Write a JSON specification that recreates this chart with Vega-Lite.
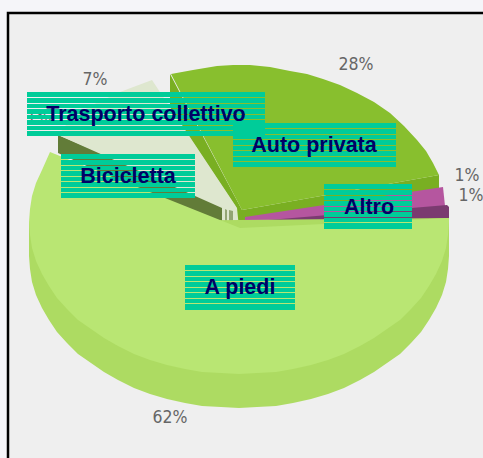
{
"$schema":"https://vega.github.io/schema/vega-lite/v6.json",
"width":483,"height":458,"padding":0,"autosize":{"type":"none"},
"background":"#F5F5F9",
"config":{"view":{"stroke":null}},
"datasets":{
"poly":[
{"part":"panel","i":0,"x":8,"y":13},{"part":"panel","i":1,"x":483,"y":13},{"part":"panel","i":2,"x":483,"y":458},{"part":"panel","i":3,"x":8,"y":458},
{"part":"trasportoWall","i":0,"x":58,"y":135},{"part":"trasportoWall","i":1,"x":58,"y":153},{"part":"trasportoWall","i":2,"x":224,"y":228},{"part":"trasportoWall","i":3,"x":224,"y":205},
{"part":"trasporto","i":0,"x":152,"y":80},{"part":"trasporto","i":1,"x":120,"y":92},{"part":"trasporto","i":2,"x":90,"y":106},{"part":"trasporto","i":3,"x":70,"y":120},{"part":"trasporto","i":4,"x":58,"y":135},{"part":"trasporto","i":5,"x":222,"y":208},{"part":"trasporto","i":6,"x":222,"y":228},{"part":"trasporto","i":7,"x":238,"y":228},{"part":"trasporto","i":8,"x":238,"y":210},
{"part":"bar1","i":0,"x":225,"y":209},{"part":"bar1","i":1,"x":227,"y":210},{"part":"bar1","i":2,"x":227,"y":228},{"part":"bar1","i":3,"x":225,"y":228},
{"part":"bar2","i":0,"x":229,"y":210},{"part":"bar2","i":1,"x":233,"y":211},{"part":"bar2","i":2,"x":233,"y":228},{"part":"bar2","i":3,"x":229,"y":228},
{"part":"autoWall","i":0,"x":170,"y":74},{"part":"autoWall","i":1,"x":170,"y":107},{"part":"autoWall","i":2,"x":237,"y":208},{"part":"autoWall","i":3,"x":239,"y":228},{"part":"autoWall","i":4,"x":246,"y":228},{"part":"autoWall","i":5,"x":439,"y":190},{"part":"autoWall","i":6,"x":439,"y":175},{"part":"autoWall","i":7,"x":242,"y":210},
{"part":"auto","i":0,"x":171,"y":74},{"part":"auto","i":1,"x":193,"y":70},{"part":"auto","i":2,"x":217,"y":66},{"part":"auto","i":3,"x":233,"y":65},{"part":"auto","i":4,"x":250,"y":65},{"part":"auto","i":5,"x":270,"y":67},{"part":"auto","i":6,"x":290,"y":71},{"part":"auto","i":7,"x":307,"y":74},{"part":"auto","i":8,"x":323,"y":79},{"part":"auto","i":9,"x":340,"y":85},{"part":"auto","i":10,"x":357,"y":93},{"part":"auto","i":11,"x":374,"y":102},{"part":"auto","i":12,"x":390,"y":113},{"part":"auto","i":13,"x":404,"y":126},{"part":"auto","i":14,"x":417,"y":140},{"part":"auto","i":15,"x":426,"y":151},{"part":"auto","i":16,"x":433,"y":163},{"part":"auto","i":17,"x":439,"y":175},{"part":"auto","i":18,"x":242,"y":210},
{"part":"altro1","i":0,"x":245,"y":217},{"part":"altro1","i":1,"x":443,"y":187},{"part":"altro1","i":2,"x":445,"y":206},{"part":"altro1","i":3,"x":245,"y":223},
{"part":"altro2","i":0,"x":245,"y":222},{"part":"altro2","i":1,"x":447,"y":205},{"part":"altro2","i":2,"x":449,"y":207},{"part":"altro2","i":3,"x":449,"y":219},{"part":"altro2","i":4,"x":245,"y":228},
{"part":"piediSide","i":-1,"x":449,"y":218},{"part":"piediSide","i":0,"x":449,"y":256},{"part":"piediSide","i":5,"x":448,"y":269},{"part":"piediSide","i":10,"x":446,"y":282},{"part":"piediSide","i":15,"x":442,"y":295},{"part":"piediSide","i":20,"x":436,"y":308},{"part":"piediSide","i":25,"x":429,"y":320},{"part":"piediSide","i":30,"x":421,"y":332},{"part":"piediSide","i":35,"x":411,"y":343},{"part":"piediSide","i":40,"x":400,"y":354},{"part":"piediSide","i":45,"x":387,"y":363},{"part":"piediSide","i":50,"x":374,"y":372},{"part":"piediSide","i":55,"x":360,"y":380},{"part":"piediSide","i":60,"x":344,"y":388},{"part":"piediSide","i":65,"x":328,"y":394},{"part":"piediSide","i":70,"x":311,"y":399},{"part":"piediSide","i":75,"x":293,"y":403},{"part":"piediSide","i":80,"x":276,"y":406},{"part":"piediSide","i":85,"x":257,"y":407},{"part":"piediSide","i":90,"x":239,"y":408},{"part":"piediSide","i":95,"x":221,"y":407},{"part":"piediSide","i":100,"x":202,"y":406},{"part":"piediSide","i":105,"x":185,"y":403},{"part":"piediSide","i":110,"x":167,"y":399},{"part":"piediSide","i":115,"x":150,"y":394},{"part":"piediSide","i":120,"x":134,"y":388},{"part":"piediSide","i":125,"x":118,"y":380},{"part":"piediSide","i":130,"x":104,"y":372},{"part":"piediSide","i":135,"x":91,"y":363},{"part":"piediSide","i":140,"x":78,"y":354},{"part":"piediSide","i":145,"x":67,"y":343},{"part":"piediSide","i":150,"x":57,"y":332},{"part":"piediSide","i":155,"x":49,"y":320},{"part":"piediSide","i":160,"x":42,"y":308},{"part":"piediSide","i":165,"x":36,"y":295},{"part":"piediSide","i":170,"x":32,"y":282},{"part":"piediSide","i":175,"x":30,"y":269},{"part":"piediSide","i":180,"x":29,"y":256},{"part":"piediSide","i":181,"x":29,"y":222},
{"part":"piedi","i":-2,"x":240,"y":228},{"part":"piedi","i":-1,"x":449,"y":218},{"part":"piedi","i":0,"x":449,"y":222},{"part":"piedi","i":5,"x":448,"y":235},{"part":"piedi","i":10,"x":446,"y":248},{"part":"piedi","i":15,"x":442,"y":261},{"part":"piedi","i":20,"x":436,"y":274},{"part":"piedi","i":25,"x":429,"y":286},{"part":"piedi","i":30,"x":421,"y":298},{"part":"piedi","i":35,"x":411,"y":309},{"part":"piedi","i":40,"x":400,"y":320},{"part":"piedi","i":45,"x":387,"y":329},{"part":"piedi","i":50,"x":374,"y":338},{"part":"piedi","i":55,"x":360,"y":346},{"part":"piedi","i":60,"x":344,"y":354},{"part":"piedi","i":65,"x":328,"y":360},{"part":"piedi","i":70,"x":311,"y":365},{"part":"piedi","i":75,"x":293,"y":369},{"part":"piedi","i":80,"x":276,"y":372},{"part":"piedi","i":85,"x":257,"y":373},{"part":"piedi","i":90,"x":239,"y":374},{"part":"piedi","i":95,"x":221,"y":373},{"part":"piedi","i":100,"x":202,"y":372},{"part":"piedi","i":105,"x":185,"y":369},{"part":"piedi","i":110,"x":167,"y":365},{"part":"piedi","i":115,"x":150,"y":360},{"part":"piedi","i":120,"x":134,"y":354},{"part":"piedi","i":125,"x":118,"y":346},{"part":"piedi","i":130,"x":104,"y":338},{"part":"piedi","i":135,"x":91,"y":329},{"part":"piedi","i":140,"x":78,"y":320},{"part":"piedi","i":145,"x":67,"y":309},{"part":"piedi","i":150,"x":57,"y":298},{"part":"piedi","i":155,"x":49,"y":286},{"part":"piedi","i":160,"x":42,"y":274},{"part":"piedi","i":165,"x":36,"y":261},{"part":"piedi","i":170,"x":32,"y":248},{"part":"piedi","i":175,"x":30,"y":235},{"part":"piedi","i":180,"x":29,"y":222},{"part":"piedi","i":185,"x":30,"y":209},{"part":"piedi","i":190,"x":32,"y":196},{"part":"piedi","i":195,"x":36,"y":183},{"part":"piedi","i":200,"x":42,"y":170},{"part":"piedi","i":207,"x":50,"y":152}
],
"border":[{"i":0,"x":483,"y":13},{"i":1,"x":8,"y":13},{"i":2,"x":8,"y":458}],
"pct":[{"t":"7%","x":95,"y":80},{"t":"28%","x":356,"y":65},{"t":"1%","x":467,"y":176},{"t":"1%","x":471,"y":196},{"t":"62%","x":170,"y":418},{"t":"1%","x":39,"y":117}],
"labels":[{"t":"Trasporto collettivo","x":146,"y":115},{"t":"Auto privata","x":314,"y":146},{"t":"Bicicletta","x":128,"y":177},{"t":"Altro","x":369,"y":208},{"t":"A piedi","x":240,"y":288}],
"bands":[
{"x":27,"x2":265,"y":92,"y2":97},{"x":27,"x2":265,"y":98,"y2":103},{"x":27,"x2":265,"y":104,"y2":108},{"x":27,"x2":265,"y":109,"y2":114},{"x":27,"x2":265,"y":115,"y2":119},{"x":27,"x2":265,"y":120,"y2":125},{"x":27,"x2":265,"y":126,"y2":130},{"x":27,"x2":265,"y":131,"y2":136},
{"x":233,"x2":396,"y":123,"y2":128},{"x":233,"x2":396,"y":129,"y2":134},{"x":233,"x2":396,"y":135,"y2":139},{"x":233,"x2":396,"y":140,"y2":145},{"x":233,"x2":396,"y":146,"y2":150},{"x":233,"x2":396,"y":151,"y2":156},{"x":233,"x2":396,"y":157,"y2":161},{"x":233,"x2":396,"y":162,"y2":167},
{"x":61,"x2":195,"y":154,"y2":159},{"x":61,"x2":195,"y":160,"y2":165},{"x":61,"x2":195,"y":166,"y2":170},{"x":61,"x2":195,"y":171,"y2":176},{"x":61,"x2":195,"y":177,"y2":181},{"x":61,"x2":195,"y":182,"y2":187},{"x":61,"x2":195,"y":188,"y2":192},{"x":61,"x2":195,"y":193,"y2":198},
{"x":324,"x2":412,"y":184,"y2":189},{"x":324,"x2":412,"y":190,"y2":195},{"x":324,"x2":412,"y":196,"y2":200},{"x":324,"x2":412,"y":201,"y2":206},{"x":324,"x2":412,"y":207,"y2":211},{"x":324,"x2":412,"y":212,"y2":217},{"x":324,"x2":412,"y":218,"y2":222},{"x":324,"x2":412,"y":223,"y2":229},
{"x":185,"x2":295,"y":265,"y2":270},{"x":185,"x2":295,"y":271,"y2":276},{"x":185,"x2":295,"y":277,"y2":281},{"x":185,"x2":295,"y":282,"y2":287},{"x":185,"x2":295,"y":288,"y2":292},{"x":185,"x2":295,"y":293,"y2":298},{"x":185,"x2":295,"y":299,"y2":303},{"x":185,"x2":295,"y":304,"y2":310}
]
},
"layer":[
{"data":{"name":"poly"},
 "mark":{"type":"line","strokeWidth":0,"interpolate":"linear"},
 "encoding":{
  "x":{"field":"x","type":"quantitative","axis":null,"scale":{"domain":[0,483],"nice":false,"zero":false}},
  "y":{"field":"y","type":"quantitative","axis":null,"scale":{"domain":[458,0],"range":[458,0],"nice":false,"zero":false}},
  "fill":{"field":"part","type":"nominal","legend":null,"scale":{"domain":["panel","trasportoWall","trasporto","bar1","bar2","autoWall","auto","altro1","altro2","piediSide","piedi"],"range":["#EFEFEF","#627C38","#DEE7CF","#93A574","#93A574","#79AF22","#88BF2E","#B5569F","#7B3B70","#ADDB62","#B9E673"]}},
  "order":{"field":"i","type":"quantitative"}
 }},
{"data":{"name":"border"},
 "mark":{"type":"line","stroke":"#000000","strokeWidth":2.5},
 "encoding":{
  "x":{"field":"x","type":"quantitative"},
  "y":{"field":"y","type":"quantitative"},
  "order":{"field":"i","type":"quantitative"}
 }},
{"data":{"name":"pct"},
 "mark":{"type":"text","font":"DejaVu Sans Condensed, Liberation Sans","fontSize":17.5,"fill":"#666666","align":"center","baseline":"middle"},
 "encoding":{"x":{"field":"x","type":"quantitative"},"y":{"field":"y","type":"quantitative"},"text":{"field":"t"}}},
{"data":{"name":"bands"},
 "mark":{"type":"rect","fill":"#00CC99"},
 "encoding":{"x":{"field":"x","type":"quantitative"},"x2":{"field":"x2"},"y":{"field":"y","type":"quantitative"},"y2":{"field":"y2"}}},
{"data":{"name":"labels"},
 "mark":{"type":"text","font":"Liberation Sans","fontWeight":"bold","fontSize":21.5,"fill":"#000066","align":"center","baseline":"middle"},
 "encoding":{"x":{"field":"x","type":"quantitative"},"y":{"field":"y","type":"quantitative"},"text":{"field":"t"}}}
]
}
